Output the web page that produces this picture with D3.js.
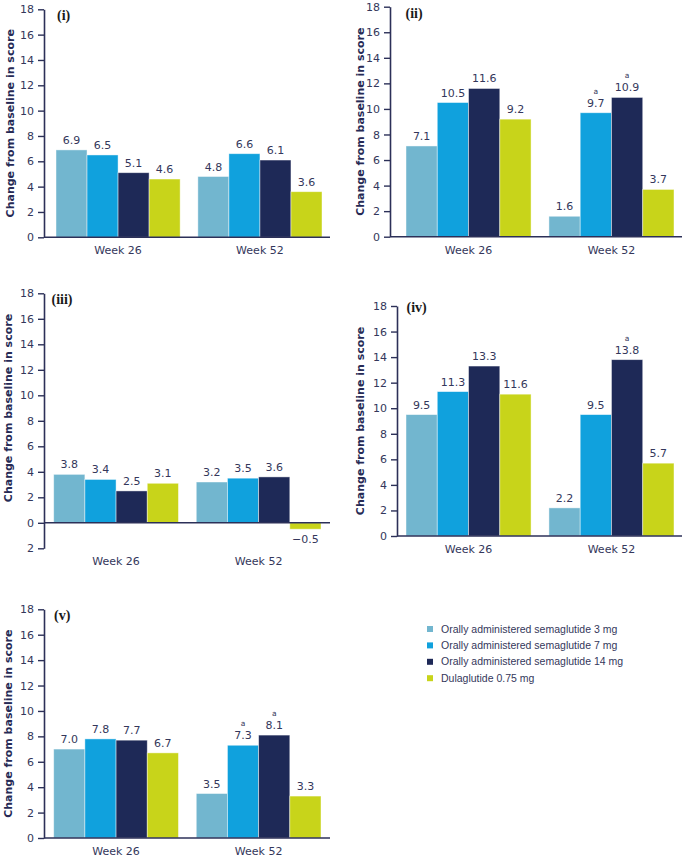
<!DOCTYPE html>
<html>
<head>
<meta charset="utf-8">
<script src="https://cdn.jsdelivr.net/npm/d3@7"></script>
<style>
    body { margin: 0; background: #fff; }
    svg { display: block; }
</style>
</head>
<body>
<div id="chart"></div>
<script>
// data
var categories = ["Week 26", "Week 52"];
var seriesNames = [
    "Orally administered semaglutide 3 mg",
    "Orally administered semaglutide 7 mg",
    "Orally administered semaglutide 14 mg",
    "Dulaglutide 0.75 mg"
];
var seriesColors = ["#72b6cf", "#10a1dd", "#1e2957", "#c8d41a"];
var tickValues = [0, 2, 4, 6, 8, 10, 12, 14, 16, 18];
var tickValuesNeg = [-2, 0, 2, 4, 6, 8, 10, 12, 14, 16, 18];
var panelTags = ["(i)", "(ii)", "(iii)", "(iv)", "(v)"];

// one row per category, one value per series
var valuesI = [[6.9, 6.5, 5.1, 4.6], [4.8, 6.6, 6.1, 3.6]];
var valuesII = [[7.1, 10.5, 11.6, 9.2], [1.6, 9.7, 10.9, 3.7]];
var valuesIII = [[3.8, 3.4, 2.5, 3.1], [3.2, 3.5, 3.6, -0.5]];
var valuesIV = [[9.5, 11.3, 13.3, 11.1], [2.2, 9.5, 13.8, 5.7]];
var valuesV = [[7.0, 7.8, 7.7, 6.7], [3.5, 7.3, 8.1, 3.3]];

// printed labels (iv has a printed 11.6 on a bar drawn at 11.1)
var labelsIV = [["9.5", "11.3", "13.3", "11.6"], ["2.2", "9.5", "13.8", "5.7"]];

// superscript "a" markers
var marksII = [[0, 0, 0, 0], [0, 1, 1, 0]];
var marksIV = [[0, 0, 0, 0], [0, 0, 1, 0]];
var marksV = [[0, 0, 0, 0], [0, 1, 1, 0]];

var W = 685, H = 858;
var axisColor = "#2c3058",
    textColor = "#34375b";

var svg = d3.select("#chart")
    .append("svg")
    .attr("width", W)
    .attr("height", H);

var fmt = d3.format(".1f");

var panels = [
    { tag: panelTags[0], values: valuesI, ticks: tickValues,
      ax: 44, top: 9.3, bottom: 237.3, right: 330, b0: 56, b1: 322, titleX: 10, tagX: 57, tagY: 20 },
    { tag: panelTags[1], values: valuesII, marks: marksII, ticks: tickValues,
      ax: 390, top: 6.7, bottom: 236.7, right: 682, b0: 406, b1: 674, titleX: 360, tagX: 405.5, tagY: 17.5 },
    { tag: panelTags[2], values: valuesIII, ticks: tickValuesNeg,
      ax: 44, top: 293.3, bottom: 548.3, right: 330, b0: 53.7, b1: 321, titleX: 8, tagX: 51.5, tagY: 303.5 },
    { tag: panelTags[3], values: valuesIV, labels: labelsIV, marks: marksIV, ticks: tickValues,
      ax: 397, top: 306, bottom: 536, right: 682, b0: 406, b1: 674, titleX: 360, tagX: 406.5, tagY: 311.5 },
    { tag: panelTags[4], values: valuesV, marks: marksV, ticks: tickValues,
      ax: 44, top: 609.3, bottom: 838, right: 330, b0: 53.7, b1: 321, titleX: 8, tagX: 54, tagY: 619.5 }
];

var drawPanel = function (p) {
    var g = svg.append("g");
    var yMin = d3.min(p.ticks);

    var y = d3.scaleLinear()
        .domain([yMin, 18])
        .range([p.bottom, p.top]);

    var x0 = d3.scaleBand()
        .domain(categories)
        .range([p.b0, p.b1])
        .paddingInner(0.125)
        .paddingOuter(0);

    var x1 = d3.scaleBand()
        .domain(d3.range(seriesNames.length))
        .range([0, x0.bandwidth()])
        .padding(0);

    // bars
    var groups = g.selectAll("g.grp")
        .data(categories)
        .enter()
        .append("g")
        .attr("class", "grp")
        .attr("transform", function (d) { return "translate(" + x0(d) + ",0)"; });

    groups.each(function (cat, ci) {
        var grp = d3.select(this);
        var vals = p.values[ci];

        grp.selectAll("rect")
            .data(vals)
            .enter()
            .append("rect")
            .attr("x", function (d, i) { return x1(i); })
            .attr("y", function (d) { return y(Math.max(0, d)); })
            .attr("width", x1.bandwidth())
            .attr("height", function (d) { return Math.abs(y(d) - y(0)); })
            .attr("fill", function (d, i) { return seriesColors[i]; })
            .attr("stroke", "rgba(255,255,255,0.55)")
            .attr("stroke-width", 0.8);

        grp.selectAll("text.val")
            .data(vals)
            .enter()
            .append("text")
            .attr("class", "val")
            .attr("x", function (d, i) { return x1(i) + x1.bandwidth() / 2; })
            .attr("y", function (d) { return d >= 0 ? y(d) - 6 : y(d) + 14; })
            .attr("text-anchor", "middle")
            .attr("font-family", "DejaVu Sans, Verdana, sans-serif")
            .attr("font-size", 11)
            .attr("fill", textColor)
            .text(function (d, i) { return p.labels ? p.labels[ci][i] : fmt(d); });

        if (p.marks) {
            grp.selectAll("text.mark")
                .data(vals.filter(function (d, i) { return p.marks[ci][i]; }).map(function (d) {
                    return { v: d, i: vals.indexOf(d) };
                }))
                .enter()
                .append("text")
                .attr("class", "mark")
                .attr("x", function (d) { return x1(d.i) + x1.bandwidth() / 2; })
                .attr("y", function (d) { return y(d.v) - 19; })
                .attr("text-anchor", "middle")
                .attr("font-family", "DejaVu Sans, Verdana, sans-serif")
                .attr("font-size", 7.5)
                .attr("fill", textColor)
                .text("a");
        }
    });

    // y axis
    var yAxis = d3.axisLeft(y)
        .tickValues(p.ticks)
        .tickSize(6)
        .tickSizeOuter(0)
        .tickPadding(4)
        .tickFormat(function (d) { return Math.abs(d); });

    var ya = g.append("g")
        .attr("transform", "translate(" + p.ax + ",0)")
        .call(yAxis);

    ya.select(".domain").attr("stroke", axisColor).attr("stroke-width", 1.6);
    ya.selectAll(".tick line").attr("stroke", axisColor).attr("stroke-width", 1.4);
    ya.selectAll(".tick text")
        .attr("fill", textColor)
        .attr("font-family", "DejaVu Sans, Verdana, sans-serif")
        .attr("font-size", 11);

    // x axis at zero
    g.append("line")
        .attr("x1", p.ax)
        .attr("x2", p.right)
        .attr("y1", y(0))
        .attr("y2", y(0))
        .attr("stroke", axisColor)
        .attr("stroke-width", 1.6);

    // category labels
    g.selectAll("text.cat")
        .data(categories)
        .enter()
        .append("text")
        .attr("class", "cat")
        .attr("x", function (d) { return x0(d) + x0.bandwidth() / 2; })
        .attr("y", y(yMin) + 17)
        .attr("text-anchor", "middle")
        .attr("font-family", "DejaVu Sans, Verdana, sans-serif")
        .attr("font-size", 11)
        .attr("fill", textColor)
        .text(function (d) { return d; });

    // axis title
    var midY = (y(0) + y(18)) / 2;
    g.append("text")
        .attr("transform", "translate(" + p.titleX + "," + midY + ") rotate(-90)")
        .attr("text-anchor", "middle")
        .attr("dy", "0.35em")
        .attr("font-family", "DejaVu Sans, Verdana, sans-serif")
        .attr("font-weight", "bold")
        .attr("font-size", 11)
        .attr("fill", "#262a55")
        .text("Change from baseline in score");

    // panel tag
    g.append("text")
        .attr("x", p.tagX)
        .attr("y", p.tagY)
        .attr("font-family", "Liberation Serif, Times New Roman, serif")
        .attr("font-weight", "bold")
        .attr("font-size", 14)
        .attr("fill", "#1a1a1a")
        .text(p.tag);
};

panels.forEach(drawPanel);

// legend
var legend = svg.append("g")
    .attr("transform", "translate(427,629)");

var rows = legend.selectAll("g")
    .data(seriesNames)
    .enter()
    .append("g")
    .attr("transform", function (d, i) { return "translate(0," + (i * 16.4) + ")"; });

rows.append("rect")
    .attr("x", 0)
    .attr("y", -3)
    .attr("width", 6)
    .attr("height", 6)
    .attr("fill", function (d, i) { return seriesColors[i]; });

rows.append("text")
    .attr("x", 14)
    .attr("y", 0)
    .attr("dy", "0.35em")
    .attr("font-family", "Liberation Sans, Arial, sans-serif")
    .attr("font-size", 10.5)
    .attr("fill", textColor)
    .text(function (d) { return d; });
</script>
</body>
</html>
